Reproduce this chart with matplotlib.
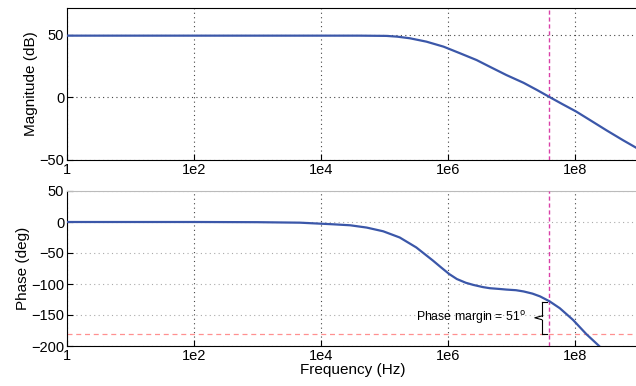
import numpy as np
import matplotlib
matplotlib.use("Agg")
import matplotlib.pyplot as plt
import matplotlib.transforms as mtransforms

plt.rcParams['font.family'] = ['Liberation Sans', 'DejaVu Sans']

# ---- data ----
mag_logf = [0, 2, 4, 4.6, 5.03, 5.2, 5.4, 5.66, 5.93, 6.19, 6.45, 6.66, 6.92, 7.19,
            7.4, 7.6, 7.8, 8.02, 8.24, 8.5, 8.76, 8.96]
mag_db = [49.4, 49.4, 49.4, 49.4, 49.2, 48.6, 47.3, 44.6, 40.6, 35.3, 29.9, 24.5, 17.9, 11.7,
          6.0, 0.3, -5.3, -11.3, -18.2, -26.4, -34.3, -40.1]

ph_logf = [0, 1, 2, 3, 3.67, 4.19, 4.46, 4.72, 4.98, 5.24, 5.5, 5.76, 5.9, 6.02, 6.14, 6.28,
           6.4, 6.55, 6.66, 6.81, 6.92, 7.07, 7.19, 7.33, 7.45, 7.6, 7.76, 7.97, 8.18, 8.38]
ph_deg = [0, 0, 0, -0.3, -1.1, -3.7, -5.3, -9, -15, -25, -41, -62, -74, -84, -92, -98,
          -101.5, -105, -106.8, -108, -109, -110, -112, -115.5, -120, -128, -139, -158, -181, -200]

crossover_f = 3.94e7
phase_margin = 51
xticks = [1, 1e2, 1e4, 1e6, 1e8]
xticklabels = ['1', '1e2', '1e4', '1e6', '1e8']
mag_yticks = [-50, 0, 50]
ph_yticks = [-200, -150, -100, -50, 0, 50]

mag_f = [10 ** v for v in mag_logf]
ph_f = [10 ** v for v in ph_logf]

fig = plt.figure(figsize=(6.36, 3.86), dpi=100)
L = 67 / 636
W = (638.5 - 67) / 636
ax1 = fig.add_axes([L, 1 - 160 / 386, W, (160 - 8) / 386])
ax2 = fig.add_axes([L, 1 - 346 / 386, W, (346 - 191) / 386])

blue = '#3b57a9'
magenta = '#d940a8'

for ax in (ax1, ax2):
    ax.set_xscale('log')
    ax.set_xlim(1, 1e9)
    ax.set_xticks(xticks)
    ax.set_xticklabels(xticklabels)
    ax.xaxis.set_minor_locator(matplotlib.ticker.NullLocator())
    ax.tick_params(direction='in', length=4, labelsize=10.5, width=0.8, colors='black')
    ax.tick_params(axis='x', pad=2)
    ax.tick_params(axis='y', pad=2)
    ax.spines['right'].set_visible(False)
    for s in ax.spines.values():
        s.set_linewidth(0.8)
    ax.axvline(crossover_f, color=magenta, lw=1.0, ls=(0, (3, 2)), zorder=3)

ax1.plot(mag_f, mag_db, color=blue, lw=1.6, zorder=4)
ax1.set_ylim(-50, 71.5)
ax1.set_yticks(mag_yticks)
ax1.set_yticklabels(['\u221250', '0', '50'])
ax1.grid(True, which='major', ls=(0, (1, 3)), color='#444444', lw=0.8)
ax1.set_ylabel('Magnitude (dB)', fontsize=11, labelpad=1)

ax2.plot(ph_f, ph_deg, color=blue, lw=1.6, zorder=4, clip_on=True)
ax2.set_ylim(-200, 48)
ax2.set_yticks(ph_yticks)
ax2.set_yticklabels(['\u2212200', '\u2212150', '\u2212100', '\u221250', '0', '50'])
ax2.grid(True, axis='x', ls=(0, (1, 3)), color='#444444', lw=0.8)
ax2.grid(True, axis='y', ls=(0, (1, 3)), color='#aaaaaa', lw=0.8)
ax2.spines['top'].set_color('#bbbbbb')
ax2.axhline(-180, color='#ff9090', lw=0.9, ls=(0, (4, 3)), zorder=2)
ax2.set_ylabel('Phase (deg)', fontsize=11, labelpad=1)
ax2.set_xlabel('Frequency (Hz)', fontsize=11, labelpad=0)

# phase-margin brace
top = -180 + phase_margin
mid = (top - 180) / 2


def px(dx):
    return mtransforms.offset_copy(ax2.transData, fig=fig, x=dx, y=0, units='dots')


bx = -7.5
kw = dict(color='black', lw=0.8, transform=px(bx), zorder=5)
ax2.plot([crossover_f] * 2, [top, mid + 3], **kw)
ax2.plot([crossover_f] * 2, [mid - 3, -180], **kw)
for y0 in (top, -180):
    ax2.plot([crossover_f, crossover_f * 10 ** (5 / 63.5)], [y0, y0], **kw)
ax2.plot([crossover_f, crossover_f * 10 ** (-7 / 63.5), crossover_f], [mid + 3, mid, mid - 3], **kw)
ax2.text(crossover_f, mid + 1, 'Phase margin = 51$^{\\mathrm{o}}$', fontsize=8.8,
         ha='right', va='center', transform=px(-23))

fig.savefig('out.png', dpi=100)
